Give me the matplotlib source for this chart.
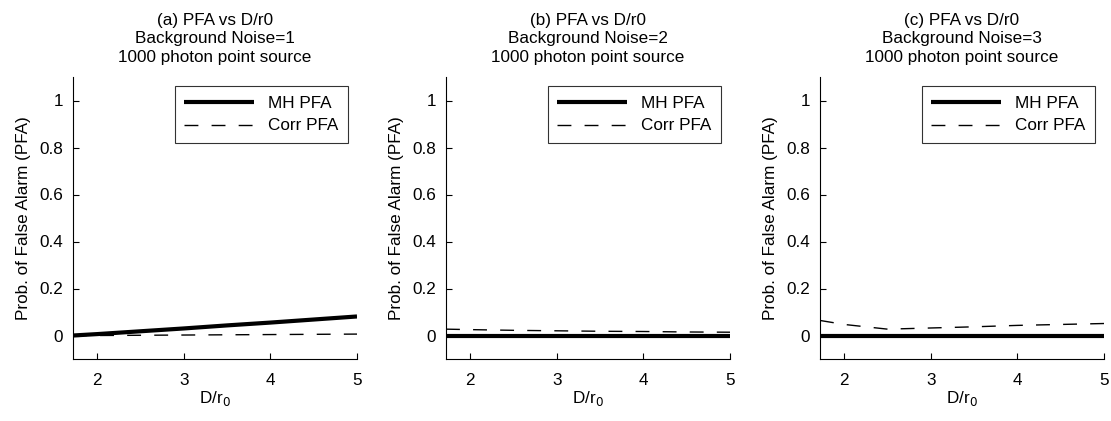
import matplotlib
matplotlib.use("Agg")
import matplotlib.pyplot as plt

plt.rcParams['font.family'] = ['Liberation Sans', 'DejaVu Sans']

x = [1.72, 2.0, 2.5, 3.0, 3.5, 4.0, 4.5, 5.0]
mh_a = [0.0, 0.006, 0.018, 0.030, 0.043, 0.055, 0.068, 0.081]
corr_a = [0.0, 0.0, 0.001, 0.002, 0.003, 0.004, 0.005, 0.006]
mh_b = [0.0] * 8
corr_b = [0.027, 0.025, 0.022, 0.020, 0.018, 0.017, 0.015, 0.014]
mh_c = [0.0] * 8
corr_c = [0.064, 0.047, 0.027, 0.032, 0.037, 0.043, 0.047, 0.051]

titles = ["(a) PFA vs D/r0\nBackground Noise=1\n1000 photon point source",
          "(b) PFA vs D/r0\nBackground Noise=2\n1000 photon point source",
          "(c) PFA vs D/r0\nBackground Noise=3\n1000 photon point source"]
xticks = [2, 3, 4, 5]
yticks = [0, 0.2, 0.4, 0.6, 0.8, 1]
ytick_labels = ["0", "0.2", "0.4", "0.6", "0.8", "1"]

FS = 12.3
fig = plt.figure(figsize=(11.11, 4.21), dpi=100)
lefts = [73, 446, 820]
data = [(mh_a, corr_a), (mh_b, corr_b), (mh_c, corr_c)]
for i in range(3):
    ax = fig.add_axes([lefts[i] / 1111, 1 - 359 / 421, 284 / 1111, 282 / 421])
    mh, corr = data[i]
    ax.plot(x, mh, color='black', lw=3.0, solid_capstyle='butt', label='MH PFA')
    ax.plot(x, corr, color='black', lw=1.0, dashes=(10, 9.5), label='Corr PFA')
    ax.set_xlim(1.72, 5)
    ax.set_ylim(-0.1, 1.1)
    ax.set_xticks(xticks)
    ax.set_xticklabels([str(t) for t in xticks])
    ax.set_yticks(yticks)
    ax.set_yticklabels(ytick_labels)
    ax.tick_params(direction='in', length=4, width=0.8, labelsize=FS)
    ax.tick_params(axis='x', pad=10)
    ax.tick_params(axis='y', pad=7)
    ax.spines['top'].set_visible(False)
    ax.spines['right'].set_visible(False)
    for s in ['left', 'bottom']:
        ax.spines[s].set_linewidth(0.8)
    ax.set_title(titles[i], fontsize=FS, linespacing=1.28, pad=11)
    ax.set_xlabel('D/r$_0$', fontsize=FS, labelpad=1)
    ax.set_ylabel('Prob. of False Alarm (PFA)', fontsize=FS, labelpad=6)
    leg = ax.legend(loc='upper right', fontsize=FS, handlelength=4.1,
                    frameon=True, fancybox=False, edgecolor='black',
                    borderaxespad=0.55, handletextpad=0.8, borderpad=0.55,
                    labelspacing=0.45)
    leg.get_frame().set_linewidth(0.8)

fig.savefig('out.png', dpi=100)
